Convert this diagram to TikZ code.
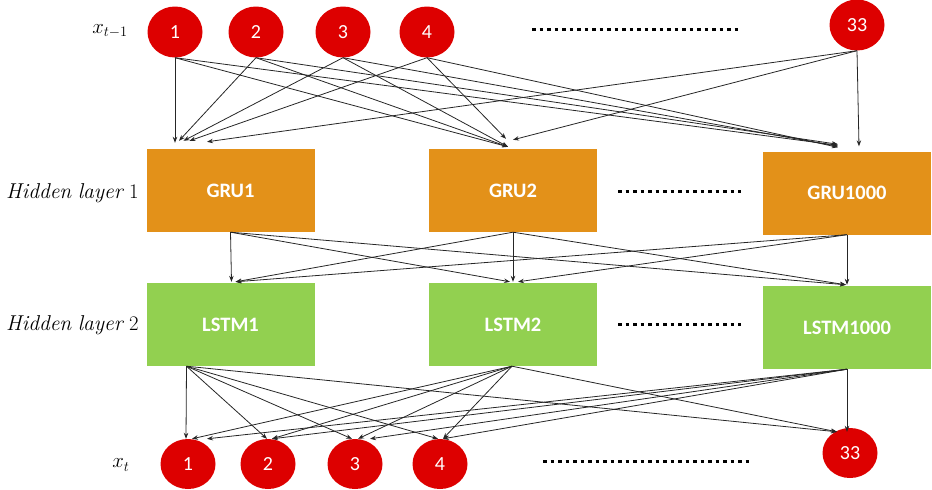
\documentclass[tikz,border=0pt]{standalone}
\usepackage{fontspec}
\setsansfont{Carlito}
\usetikzlibrary{shapes.geometric,arrows.meta}
\definecolor{nred}{RGB}{221,0,0}
\definecolor{gruor}{RGB}{227,145,25}
\definecolor{lstmg}{RGB}{146,208,80}
\begin{document}
\begin{tikzpicture}[x=1pt,y=-1pt,
  neuron/.style={ellipse, fill=nred, text=white, minimum width=55pt, minimum height=51pt, inner sep=0pt, font=\sffamily\fontsize{20}{24}\selectfont},
  grubox/.style={rectangle, fill=gruor, text=white, minimum width=168pt, minimum height=83pt, inner sep=0pt, font=\sffamily\bfseries\fontsize{20.5}{24}\selectfont},
  lstmbox/.style={grubox, fill=lstmg},
  conn/.style={-{Stealth[length=6pt,width=4.5pt]}, line width=0.8pt, black!85},
  dotline/.style={line width=3pt, dash pattern=on 3.5pt off 4pt},
  lbl/.style={inner sep=0pt, font=\fontsize{20}{24}\selectfont},
  hlbl/.style={inner sep=0pt, anchor=west, font=\fontsize{21.5}{24}\selectfont}]
\useasboundingbox (0,0) rectangle (932,490);

% input neurons
\node[neuron] (i1) at (175,32) {1};
\node[neuron] (i2) at (256,32) {2};
\node[neuron] (i3) at (343,32) {3};
\node[neuron] (i4) at (427,32) {4};
\node[neuron] (i33) at (857,25) {33};
\node[lbl] (lin) at (110,31) {$x_{t-1}$};

% hidden layer 1
\node[grubox] (gru1) at (230.5,190.5) {GRU1};
\node[grubox] (gru2) at (513,190.5) {GRU2};
\node[grubox] (gru3) at (847,193) {GRU1000};
\node[hlbl] (lh1) at (6,193) {$\mathit{Hidden\ layer}\ 1$};

% hidden layer 2
\node[lstmbox] (lstm1) at (230.5,324.5) {LSTM1};
\node[lstmbox] (lstm2) at (513,324.5) {LSTM2};
\node[lstmbox] (lstm3) at (847,327.5) {LSTM1000};
\node[hlbl] (lh2) at (6,325) {$\mathit{Hidden\ layer}\ 2$};

% output neurons
\node[neuron, minimum height=50pt] (o1) at (188,464) {1};
\node[neuron, minimum height=50pt] (o2) at (268,464) {2};
\node[neuron, minimum height=50pt] (o3) at (355,464) {3};
\node[neuron, minimum height=50pt] (o4) at (440,464) {4};
\node[neuron, minimum height=50pt] (o33) at (850,453) {33};
\node[lbl] (lout) at (121,465) {$x_{t}$};

% dotted separators
\draw[dotline] (532,29) -- (738,29);
\draw[dotline] (618,191) -- (741,191);
\draw[dotline] (618,324) -- (741,324);
\draw[dotline] (543,461) -- (750,461);

% input -> GRU
\draw[conn] (i1.south) -- ([xshift=-55.5pt,yshift=6pt]gru1.north);
\draw[conn] (i2.south) -- ([xshift=-51.5pt,yshift=8pt]gru1.north);
\draw[conn] (i3.south) -- ([xshift=-47pt,yshift=8pt]gru1.north);
\draw[conn] (i4.south) -- ([xshift=-41pt,yshift=8pt]gru1.north);
\draw[conn] (i33.south) -- ([xshift=-23.5pt,yshift=7pt]gru1.north);
\draw[conn] (i1.south) -- ([xshift=-5pt,yshift=2pt]gru2.north);
\draw[conn] (i2.south) -- ([xshift=-5pt,yshift=2pt]gru2.north);
\draw[conn] (i3.south) -- ([xshift=-5pt,yshift=2pt]gru2.north);
\draw[conn] (i4.south) -- ([xshift=-7pt,yshift=10pt]gru2.north);
\draw[conn] (i33.south) -- ([xshift=0pt,yshift=9pt]gru2.north);
\draw[conn] (i1.south) -- ([xshift=-9pt,yshift=6pt]gru3.north);
\draw[conn] (i2.south) -- ([xshift=-9pt,yshift=7pt]gru3.north);
\draw[conn] (i3.south) -- ([xshift=-9pt,yshift=5pt]gru3.north);
\draw[conn] (i4.south) -- ([xshift=-9pt,yshift=4pt]gru3.north);
\draw[conn] (i33.south) -- ([xshift=12pt,yshift=5pt]gru3.north);

% GRU -> LSTM
\draw[conn] (gru1.south) -- ([xshift=1pt,yshift=1pt]lstm1.north);
\draw[conn] (gru2.south) -- ([xshift=5pt,yshift=1pt]lstm1.north);
\draw[conn] (gru3.south) -- ([xshift=5pt,yshift=1pt]lstm1.north);
\draw[conn] (gru1.south) -- ([xshift=-3pt,yshift=1pt]lstm2.north);
\draw[conn] (gru2.south) -- ([xshift=0pt,yshift=1pt]lstm2.north);
\draw[conn] (gru3.south) -- ([xshift=5pt,yshift=1pt]lstm2.north);
\draw[conn] (gru1.south) -- ([xshift=-1pt,yshift=1pt]lstm3.north);
\draw[conn] (gru2.south) -- ([xshift=-1pt,yshift=1pt]lstm3.north);
\draw[conn] (gru3.south) -- ([xshift=0pt,yshift=1pt]lstm3.north);

% LSTM -> output
\coordinate (s1) at ([xshift=-44pt]lstm1.south);
\coordinate (s2) at ([xshift=-1pt]lstm2.south);
\coordinate (s3) at (lstm3.south);
\draw[conn] (s1) -- ([xshift=-2pt,yshift=0pt]o1.north);
\draw[conn] (s2) -- ([xshift=4pt,yshift=0pt]o1.north);
\draw[conn] (s3) -- ([xshift=19pt,yshift=0pt]o1.north);
\draw[conn] (s1) -- ([xshift=-1pt,yshift=0pt]o2.north);
\draw[conn] (s2) -- ([xshift=4pt,yshift=0pt]o2.north);
\draw[conn] (s3) -- ([xshift=4pt,yshift=0pt]o2.north);
\draw[conn] (s1) -- ([xshift=-3pt,yshift=0pt]o3.north);
\draw[conn] (s2) -- ([xshift=3pt,yshift=0pt]o3.north);
\draw[conn] (s3) -- ([xshift=15pt,yshift=0pt]o3.north);
\draw[conn] (s1) -- ([xshift=-2pt,yshift=0pt]o4.north);
\draw[conn] (s2) -- ([xshift=3pt,yshift=0pt]o4.north);
\draw[conn] (s3) -- ([xshift=3pt,yshift=0pt]o4.north);
\draw[conn] (s1) -- ([xshift=-13pt,yshift=-4pt]o33.north);
\draw[conn] (s2) -- ([xshift=-13pt,yshift=-4pt]o33.north);
\draw[conn] (s3) -- ([xshift=-3pt,yshift=-4pt]o33.north);
\end{tikzpicture}
\end{document}
